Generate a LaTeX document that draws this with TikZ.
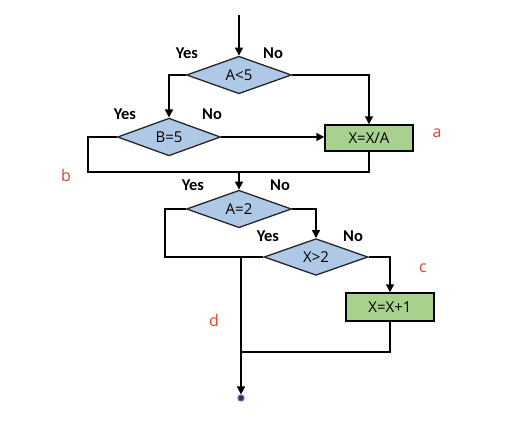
\documentclass[tikz,border=0pt]{standalone}
\usepackage{fontspec}
\setmainfont{Open Sans}
\newfontfamily\lblfont{Carlito}
\usetikzlibrary{shapes.geometric,arrows.meta}
\definecolor{dfill}{HTML}{AEC8E6}
\definecolor{bfill}{HTML}{A9D18E}
\definecolor{lred}{HTML}{D9432F}
\definecolor{dotblue}{HTML}{4A6FB5}
\tikzset{
  dia/.style={diamond, draw=black!85, line width=1.3pt, fill=dfill, inner sep=0pt, font=\fontsize{15}{17}\selectfont},
  proc/.style={rectangle, draw=black, line width=1.5pt, fill=bfill, inner sep=0pt, font=\fontsize{15}{17}\selectfont},
  conn/.style={line width=1.5pt, black},
  arr/.style={conn, -{Triangle[length=8pt,width=8pt]}},
  yn/.style={font=\lblfont\bfseries\fontsize{16.5}{18}\selectfont},
  tag/.style={text=lred, font=\fontsize{16}{18}\selectfont}
}
\begin{document}
\begin{tikzpicture}[x=1pt,y=-1pt]
\useasboundingbox (0,0) rectangle (530,428);
\coordinate (s) at (239,15);
\node[dia, minimum width=105pt, minimum height=36pt] (A5) at (239,75) {A<5};
\node[dia, minimum width=103pt, minimum height=37pt] (B5) at (169,137) {B=5};
\node[proc, minimum width=88pt, minimum height=26pt] (XA) at (369,138) {X=X/A};
\node[dia, minimum width=105pt, minimum height=36pt] (A2) at (239,209) {A=2};
\node[dia, minimum width=104pt, minimum height=36pt] (X2) at (316,257) {X>2};
\node[proc, minimum width=88pt, minimum height=28pt] (XP) at (390,307) {X=X+1};
\coordinate (j1) at (239,172);
\coordinate (jl) at (88,172);
\coordinate (j2) at (241,257);
\coordinate (jc) at (165,209);
\coordinate (j3) at (241,352);
\node[circle, fill=black!80, draw=dotblue, line width=1.2pt, inner sep=0pt, minimum size=6pt] (e) at (241,398) {};

\draw[arr] (s) -- (A5.north);
\draw[arr] (A5.west) -| (B5.north);
\draw[arr] (A5.east) -| (XA.north);
\draw[arr] (B5.east) -- (B5.east -| XA.west);
\draw[conn] (B5.west) -| (jl) -- (j1) -| (XA.south);
\draw[arr] (j1) -- (A2.north);
\draw[conn] (A2.west) -- (jc) |- (X2.west);
\draw[arr] (A2.east) -| (X2.north);
\draw[arr] (X2.east) -| (XP.north);
\draw[conn] (XP.south) |- (j3);
\draw[arr] (j2) -- (e.north);

\node[yn] (y1) at (187,53) {Yes};
\node[yn] (n1) at (273,53) {No};
\node[yn] (y2) at (125,114) {Yes};
\node[yn] (n2) at (212,114) {No};
\node[yn] (y3) at (193,185) {Yes};
\node[yn] (n3) at (280,185) {No};
\node[yn] (y4) at (268,236) {Yes};
\node[yn] (n4) at (353,236) {No};

\node[tag] (ta) at (437,133) {a};
\node[tag] (tb) at (66,175) {b};
\node[tag] (tc) at (423,268) {c};
\node[tag] (td) at (214,320) {d};
\end{tikzpicture}
\end{document}
